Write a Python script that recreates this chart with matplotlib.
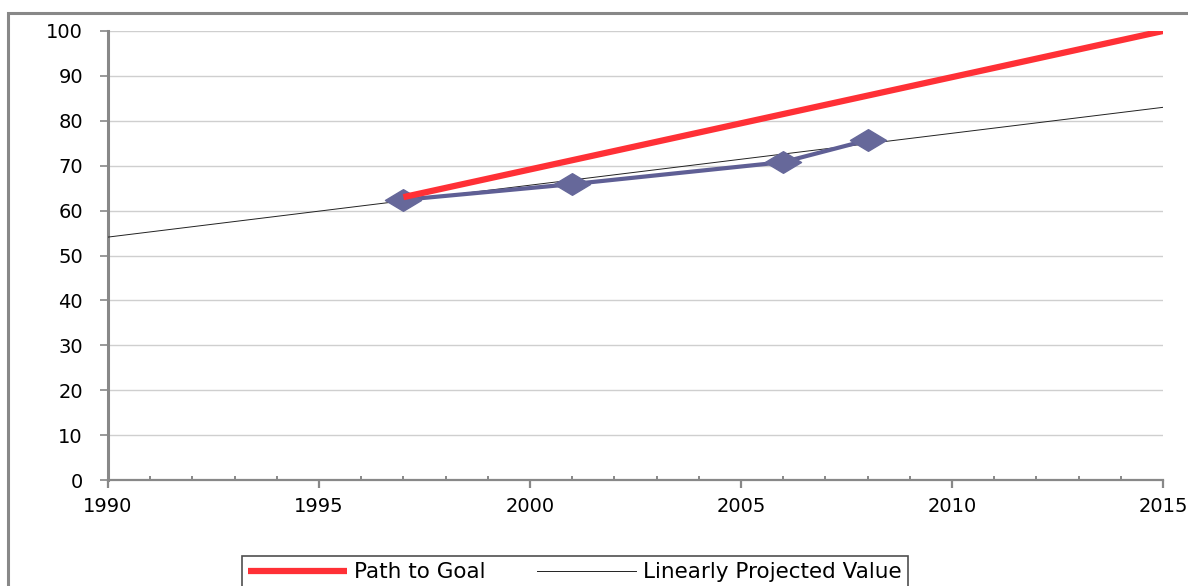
import matplotlib.pyplot as plt
from matplotlib.path import Path
from matplotlib.patches import Rectangle
from matplotlib.ticker import MultipleLocator

# observed values (blue diamonds)
obs_years = [1997, 2001, 2006, 2008]
obs_values = [62.4, 65.9, 70.8, 75.7]

# path to goal (red)
goal_years = [1997, 2015]
goal_values = [63.0, 100.0]

# linear projection (thin black)
proj_years = [1990, 2015]
proj_values = [54.1, 83.0]

x_ticks = [1990, 1995, 2000, 2005, 2010, 2015]
y_ticks = list(range(0, 101, 10))

fig = plt.figure(figsize=(11.88, 5.86), dpi=100)
fig.patch.set_facecolor("white")

# outer chart frame (cut at the bottom/right like the source)
fig.patches.append(
    Rectangle((8 / 1188, -0.05), 1.1, 1 - 13 / 586 + 0.05,
              transform=fig.transFigure, fill=False,
              edgecolor="#888888", linewidth=2.2, zorder=0)
)

ax = fig.add_axes([108 / 1188, 1 - 480 / 586, (1163 - 108) / 1188, 449 / 586])

diamond = Path([(-1, 0), (0, 0.6), (1, 0), (0, -0.6), (-1, 0)],
               [Path.MOVETO, Path.LINETO, Path.LINETO, Path.LINETO, Path.CLOSEPOLY])

ax.plot(proj_years, proj_values, color="#222222", linewidth=0.7,
        label="Linearly Projected Value", zorder=3)
ax.plot(obs_years, obs_values, color="#5f5f95", linewidth=3.0,
        marker=diamond, markersize=26, markerfacecolor="#66689a",
        markeredgecolor="#66689a", zorder=4)
ax.plot(goal_years, goal_values, color="#ff3036", linewidth=4.5,
        label="Path to Goal", zorder=5, solid_capstyle="butt")

ax.set_xlim(1990, 2015)
ax.set_ylim(0, 100)
ax.set_xticks(x_ticks)
ax.set_yticks(y_ticks)
ax.xaxis.set_minor_locator(MultipleLocator(1))

for y in y_ticks[1:]:
    ax.axhline(y, color="#cfcfcf", linewidth=1.0, zorder=1)

for side in ["top", "right"]:
    ax.spines[side].set_visible(False)
ax.spines["left"].set_color("#888888")
ax.spines["left"].set_linewidth(2.2)
ax.spines["bottom"].set_color("#888888")
ax.spines["bottom"].set_linewidth(1.6)

ax.tick_params(axis="y", direction="out", length=6, width=1.2, color="#888888",
               labelsize=14, pad=12)
ax.tick_params(axis="x", which="major", direction="out", length=6, width=1.6,
               color="#888888", labelsize=14, pad=6)
ax.tick_params(axis="x", which="minor", direction="in", length=3, width=1.4,
               color="#888888")

handles, labels = ax.get_legend_handles_labels()
leg = fig.legend(handles[::-1], labels[::-1], loc="upper left",
                 bbox_to_anchor=(242 / 1188, 1 - 556 / 586), ncol=2,
                 frameon=True, fancybox=False, fontsize=15.5,
                 handlelength=4.6, borderpad=0.3, borderaxespad=0,
                 columnspacing=2.4, handletextpad=0.3)
leg.get_frame().set_edgecolor("#222222")
leg.get_frame().set_linewidth(1.2)

fig.savefig("out.png", dpi=100)
